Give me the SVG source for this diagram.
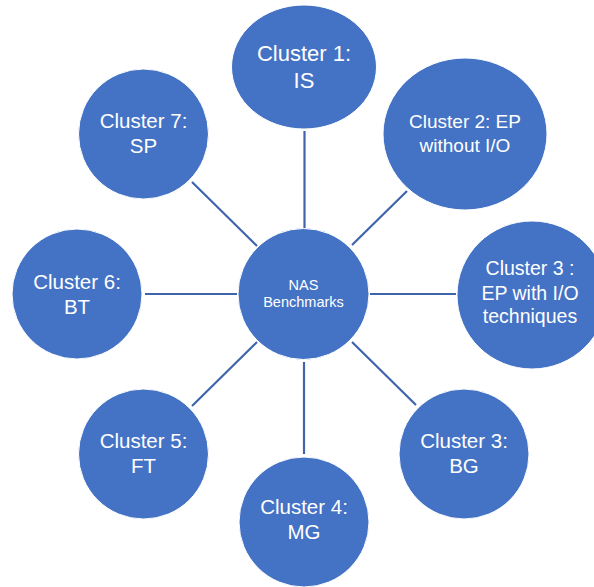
<svg xmlns="http://www.w3.org/2000/svg" width="594" height="587" viewBox="0 0 594 587">
<style>
.n{fill:#4472C4;stroke:#ffffff;stroke-width:1}
.t{fill:#ffffff;font-family:"Liberation Sans",Arial,sans-serif;text-anchor:middle}
.c line{stroke:#3E64AC;stroke-width:2.2}
</style>
<rect width="594" height="587" fill="#ffffff"/>
<g class="c" id="connectors">
<line x1="304.5" y1="131" x2="304.5" y2="229"/>
<line x1="407" y1="191" x2="352" y2="245"/>
<line x1="370" y1="294" x2="456" y2="294"/>
<line x1="352" y1="342" x2="416" y2="405"/>
<line x1="304" y1="362" x2="304" y2="454"/>
<line x1="257" y1="342" x2="192" y2="406"/>
<line x1="145" y1="294" x2="237" y2="294"/>
<line x1="192" y1="182" x2="257" y2="246"/>
</g>
<g id="center">
<circle class="n" cx="303.5" cy="294" r="65.5"/>
<text class="t" x="303.5" y="290" font-size="14.5">NAS</text>
<text class="t" x="303.5" y="307" font-size="14.5">Benchmarks</text>
</g>
<g id="cluster1">
<ellipse class="n" cx="304" cy="67" rx="72.5" ry="62"/>
<text class="t" x="304" y="61" font-size="22">Cluster 1:</text>
<text class="t" x="304" y="88" font-size="22">IS</text>
</g>
<g id="cluster2">
<ellipse class="n" cx="465" cy="134" rx="82" ry="76"/>
<text class="t" x="465" y="128" font-size="19">Cluster 2: EP</text>
<text class="t" x="465" y="152" font-size="19">without I/O</text>
</g>
<g id="cluster3a">
<ellipse class="n" cx="532" cy="295" rx="75" ry="74"/>
<text class="t" x="530" y="275" font-size="19.5">Cluster 3 :</text>
<text class="t" x="530" y="300" font-size="19.5">EP with I/O</text>
<text class="t" x="530" y="323" font-size="19.5">techniques</text>
</g>
<g id="cluster3b">
<circle class="n" cx="464" cy="454" r="65"/>
<text class="t" x="464" y="448" font-size="20.5">Cluster 3:</text>
<text class="t" x="464" y="473" font-size="20.5">BG</text>
</g>
<g id="cluster4">
<circle class="n" cx="304" cy="522" r="65"/>
<text class="t" x="304" y="514" font-size="20.5">Cluster 4:</text>
<text class="t" x="304" y="539" font-size="20.5">MG</text>
</g>
<g id="cluster5">
<circle class="n" cx="143.5" cy="454" r="65"/>
<text class="t" x="143.5" y="448" font-size="20.5">Cluster 5:</text>
<text class="t" x="143.5" y="473" font-size="20.5">FT</text>
</g>
<g id="cluster6">
<circle class="n" cx="77" cy="294" r="65"/>
<text class="t" x="77" y="289" font-size="20.5">Cluster 6:</text>
<text class="t" x="77" y="314" font-size="20.5">BT</text>
</g>
<g id="cluster7">
<circle class="n" cx="143.5" cy="134" r="65"/>
<text class="t" x="143.5" y="128" font-size="20.5">Cluster 7:</text>
<text class="t" x="143.5" y="153" font-size="20.5">SP</text>
</g>
</svg>
